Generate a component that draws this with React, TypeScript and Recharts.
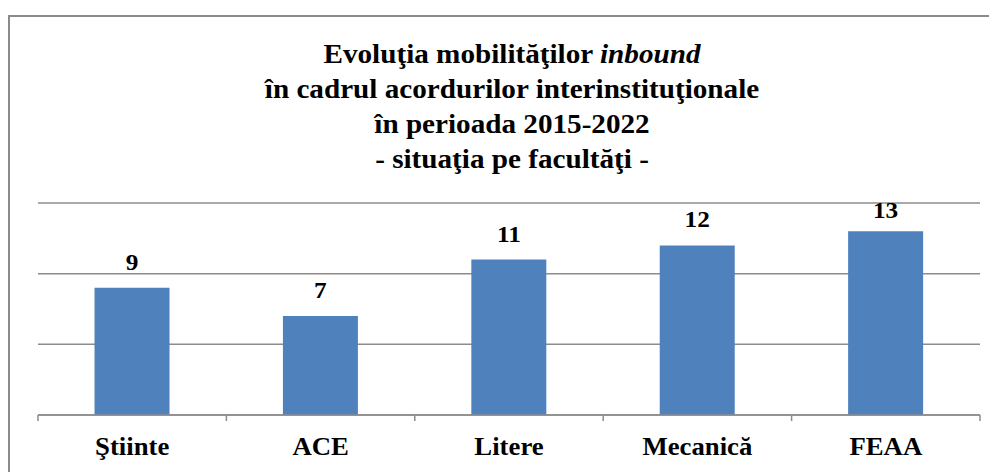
import React from 'react';
import { BarChart, Bar, XAxis, YAxis, CartesianGrid, LabelList } from 'recharts';

const categories = ['Ştiinte', 'ACE', 'Litere', 'Mecanică', 'FEAA'];
const values = [9, 7, 11, 12, 13];
const yTicks = [0, 5, 10, 15];
const titleLines = [
  ['Evoluţia mobilităţilor ', 'inbound'],
  ['în cadrul acordurilor interinstituţionale', ''],
  ['în perioada 2015-2022', ''],
  ['- situaţia pe facultăţi -', ''],
];

const data = categories.map((name, i) => ({ name, value: values[i] }));

const serif = 'Liberation Serif';
const gridColor = '#8c8c8c';
const PLOT_TOP = 188;

const CategoryTick = (props: any) => {
  const { x, y, payload, index, visibleTicksCount } = props;
  const off = payload.offset || 0;
  const last = index === visibleTicksCount - 1;
  return (
    <g>
      <line x1={x - off} x2={x - off} y1={y} y2={y + 6} stroke={gridColor} strokeWidth={1.5} />
      {last ? <line x1={x + off} x2={x + off} y1={y} y2={y + 6} stroke={gridColor} strokeWidth={1.5} /> : null}
      <text
        transform={`translate(${x} ${y + 40}) scale(1.07 1)`}
        textAnchor="middle"
        fill="#000"
        fontSize={25}
        fontWeight="bold"
        fontFamily={serif}
      >
        {payload.value}
      </text>
    </g>
  );
};

const ValueLabel = (props: any) => {
  const { x, y, width, value } = props;
  const baseline = Math.max(y - 18, PLOT_TOP + 15);
  return (
    <text
      transform={`translate(${x + width / 2} ${baseline}) scale(1.1 1)`}
      textAnchor="middle"
      fill="#000"
      fontSize={23}
      fontWeight="bold"
      fontFamily={serif}
    >
      {value}
    </text>
  );
};

export default function App() {
  return (
    <div style={{ width: 989, height: 457, marginTop: 7, overflow: 'hidden', position: 'relative' }}>
      <div
        style={{
          position: 'absolute',
          left: 0,
          top: 0,
          width: 1000,
          height: 470,
          border: '2px solid #8a8a8a',
          boxSizing: 'border-box',
        }}
      />
      <div
        style={{
          position: 'absolute',
          left: 30,
          width: 948,
          top: 22,
          textAlign: 'center',
          fontFamily: serif,
          fontWeight: 'bold',
          fontSize: 27,
          lineHeight: '35px',
          color: '#000',
          transform: 'scaleX(1.08)',
          transformOrigin: '50% 0',
        }}
      >
        {titleLines.map((l, i) => (
          <div key={i}>
            {l[0]}
            {l[1] ? <i>{l[1]}</i> : null}
          </div>
        ))}
      </div>
      <div style={{ position: 'absolute', left: 0, top: 0 }}>
        <BarChart
          width={989}
          height={457}
          data={data}
          margin={{ top: PLOT_TOP, right: 17, left: 30, bottom: 17 }}
          barCategoryGap="30%"
        >
          <CartesianGrid vertical={false} stroke={gridColor} strokeWidth={1.5} />
          <XAxis
            dataKey="name"
            height={40}
            axisLine={{ stroke: gridColor, strokeWidth: 1.5 }}
            tickLine={false}
            tickSize={0}
            tickMargin={0}
            interval={0}
            tick={<CategoryTick />}
          />
          <YAxis hide domain={[0, 15]} ticks={yTicks} />
          <Bar dataKey="value" fill="#4f81bd" isAnimationActive={false}>
            <LabelList dataKey="value" content={<ValueLabel />} />
          </Bar>
        </BarChart>
      </div>
    </div>
  );
}
